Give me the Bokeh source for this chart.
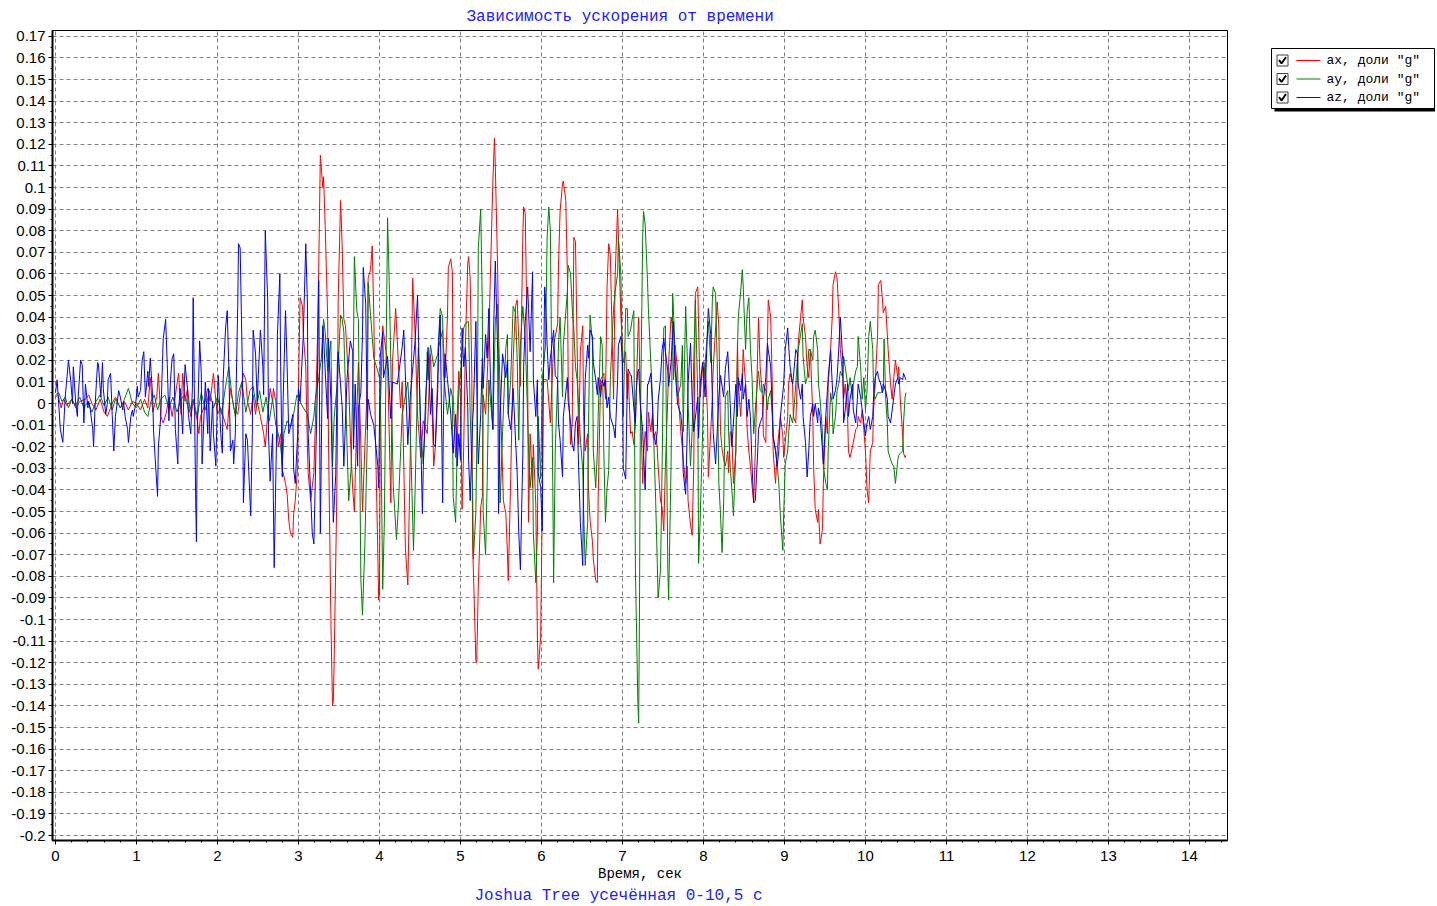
from bokeh.plotting import figure
from bokeh.layouts import row
from bokeh.models import (Range1d, SingleIntervalTicker, CustomJSTickFormatter, Title)
from bokeh.core.properties import value
from bokeh.embed import file_html
from bokeh.resources import INLINE

# ---------------- data (time, s ; acceleration, fractions of g) ----------------
t_ax = [
    0.00, 0.03, 0.07, 0.10, 0.14, 0.20, 0.25, 0.30, 0.37, 0.41,
    0.45, 0.50, 0.55, 0.60, 0.64, 0.70, 0.74, 0.80, 0.85, 0.90,
    0.95, 1.00, 1.05, 1.10, 1.14, 1.17, 1.20, 1.25, 1.27, 1.30,
    1.33, 1.37, 1.40, 1.44, 1.48, 1.52, 1.55, 1.57, 1.60, 1.63,
    1.67, 1.70, 1.75, 1.77, 1.79, 1.83, 1.88, 1.91, 1.95, 1.98,
    2.00, 2.04, 2.07, 2.12, 2.16, 2.19, 2.20, 2.25, 2.28, 2.32,
    2.35, 2.37, 2.41, 2.44, 2.47, 2.49, 2.53, 2.57, 2.59, 2.62,
    2.65, 2.68, 2.69, 2.72, 2.74, 2.75, 2.78, 2.80, 2.81, 2.84,
    2.86, 2.88, 2.90, 2.93, 2.94, 2.96, 2.99, 3.00, 3.02, 3.05,
    3.06, 3.09, 3.11, 3.12, 3.15, 3.19, 3.21, 3.23, 3.25, 3.27,
    3.30, 3.31, 3.33, 3.36, 3.37, 3.40, 3.42, 3.43, 3.44, 3.47,
    3.48, 3.49, 3.52, 3.54, 3.56, 3.58, 3.62, 3.64, 3.67, 3.69,
    3.73, 3.74, 3.77, 3.79, 3.83, 3.85, 3.86, 3.89, 3.91, 3.93,
    3.95, 3.98, 3.99, 4.00, 4.01, 4.04, 4.05, 4.10, 4.14, 4.16,
    4.20, 4.22, 4.26, 4.28, 4.32, 4.35, 4.36, 4.38, 4.41, 4.44,
    4.47, 4.51, 4.54, 4.59, 4.63, 4.67, 4.69, 4.73, 4.78, 4.81,
    4.84, 4.85, 4.88, 4.90, 4.91, 4.94, 4.98, 5.00, 5.02, 5.04,
    5.06, 5.09, 5.10, 5.12, 5.14, 5.15, 5.16, 5.19, 5.20, 5.22,
    5.25, 5.27, 5.28, 5.31, 5.35, 5.37, 5.40, 5.42, 5.43, 5.46,
    5.47, 5.49, 5.52, 5.53, 5.56, 5.58, 5.59, 5.62, 5.65, 5.68,
    5.70, 5.72, 5.74, 5.77, 5.78, 5.80, 5.83, 5.84, 5.86, 5.89,
    5.90, 5.93, 5.95, 5.96, 5.99, 6.01, 6.02, 6.07, 6.11, 6.15,
    6.20, 6.21, 6.23, 6.26, 6.27, 6.30, 6.32, 6.33, 6.36, 6.38,
    6.40, 6.42, 6.44, 6.46, 6.48, 6.51, 6.52, 6.54, 6.57, 6.58,
    6.60, 6.63, 6.64, 6.67, 6.69, 6.70, 6.73, 6.77, 6.79, 6.81,
    6.83, 6.85, 6.88, 6.89, 6.91, 6.94, 6.95, 6.98, 7.00, 7.01,
    7.04, 7.06, 7.07, 7.10, 7.12, 7.14, 7.16, 7.19, 7.20, 7.22,
    7.25, 7.26, 7.28, 7.31, 7.32, 7.35, 7.37, 7.38, 7.41, 7.43,
    7.44, 7.47, 7.49, 7.51, 7.53, 7.56, 7.57, 7.60, 7.62, 7.63,
    7.65, 7.68, 7.69, 7.72, 7.74, 7.75, 7.78, 7.80, 7.81, 7.84,
    7.86, 7.88, 7.90, 7.93, 7.94, 7.96, 7.99, 8.00, 8.02, 8.05,
    8.06, 8.09, 8.11, 8.12, 8.15, 8.17, 8.19, 8.21, 8.23, 8.25,
    8.27, 8.30, 8.31, 8.33, 8.35, 8.37, 8.40, 8.42, 8.43, 8.46,
    8.48, 8.49, 8.52, 8.54, 8.56, 8.58, 8.60, 8.62, 8.64, 8.67,
    8.68, 8.70, 8.73, 8.74, 8.77, 8.79, 8.80, 8.83, 8.85, 8.86,
    8.89, 8.91, 8.93, 8.95, 8.98, 8.99, 9.01, 9.04, 9.05, 9.07,
    9.10, 9.11, 9.14, 9.16, 9.17, 9.20, 9.22, 9.23, 9.26, 9.28,
    9.30, 9.32, 9.35, 9.36, 9.38, 9.41, 9.42, 9.44, 9.47, 9.48,
    9.51, 9.53, 9.54, 9.57, 9.59, 9.60, 9.63, 9.65, 9.67, 9.69,
    9.72, 9.73, 9.75, 9.78, 9.79, 9.81, 9.84, 9.85, 9.88, 9.90,
    9.91, 9.94, 9.96, 9.98, 10.00, 10.02, 10.04, 10.06, 10.09, 10.10,
    10.12, 10.15, 10.16, 10.19, 10.21, 10.22, 10.25, 10.27, 10.28, 10.31,
    10.33, 10.35, 10.37, 10.40, 10.41, 10.43, 10.46, 10.47, 10.49, 10.50,
]
ax = [
    0.003, 0.004, -0.002, 0.002, -0.001, 0.002, -0.002, 0.001, 0.002, 0.004,
    0.000, -0.003, 0.002, -0.004, -0.006, 0.000, 0.003, -0.002, 0.001, -0.003,
    0.001, 0.000, -0.003, 0.002, -0.002, 0.012, -0.004, 0.003, 0.014, -0.006,
    -0.009, -0.004, 0.003, -0.006, 0.004, 0.014, -0.005, 0.014, 0.001, 0.007,
    -0.006, 0.001, -0.008, -0.014, -0.006, -0.002, 0.007, 0.001, 0.014, 0.001,
    -0.005, -0.002, -0.006, -0.012, 0.007, 0.001, -0.002, -0.005, 0.004, 0.014,
    0.011, 0.001, -0.005, 0.004, -0.005, 0.001, -0.006, -0.014, -0.020, -0.005,
    0.007, 0.001, 0.007, 0.001, -0.014, -0.020, -0.014, -0.031, -0.032, -0.037,
    -0.042, -0.054, -0.060, -0.062, -0.051, -0.045, -0.029, 0.009, 0.049, 0.045,
    0.032, 0.017, -0.020, -0.032, -0.045, -0.032, -0.007, 0.023, 0.063, 0.115,
    0.100, 0.105, 0.082, 0.040, -0.015, -0.100, -0.140, -0.138, -0.120, -0.050,
    -0.020, 0.048, 0.094, 0.072, 0.039, 0.036, 0.010, -0.015, -0.040, -0.050,
    0.008, 0.019, -0.019, -0.050, -0.010, 0.010, 0.058, 0.062, 0.073, 0.041,
    -0.015, -0.070, -0.091, -0.088, -0.003, 0.036, 0.033, 0.019, -0.046, 0.019,
    0.044, 0.029, -0.002, 0.010, -0.067, -0.084, -0.064, -0.024, 0.058, 0.032,
    -0.005, -0.025, -0.008, -0.014, 0.023, -0.029, -0.020, 0.026, 0.034, 0.012,
    0.041, 0.063, 0.067, 0.061, 0.004, -0.025, 0.015, 0.003, -0.049, -0.020,
    0.026, 0.065, 0.068, 0.058, 0.013, -0.066, -0.078, -0.119, -0.120, -0.085,
    -0.048, -0.043, 0.004, -0.005, 0.030, 0.060, 0.103, 0.123, 0.110, 0.060,
    0.034, 0.004, -0.032, -0.045, -0.051, -0.069, -0.082, -0.035, 0.020, 0.045,
    0.048, 0.029, 0.008, 0.078, 0.091, 0.088, 0.011, -0.055, -0.014, -0.039,
    -0.019, -0.047, -0.108, -0.123, -0.108, -0.047, 0.011, 0.011, -0.009, 0.027,
    0.037, 0.064, 0.089, 0.102, 0.103, 0.094, 0.060, 0.011, -0.019, -0.009,
    0.077, 0.075, 0.027, -0.019, 0.024, 0.036, -0.006, -0.022, -0.014, -0.039,
    -0.054, -0.064, -0.072, -0.082, -0.083, -0.044, 0.011, 0.014, 0.002, 0.054,
    0.074, 0.069, 0.019, 0.002, 0.060, 0.090, 0.077, 0.041, 0.027, 0.019,
    0.024, 0.002, 0.014, -0.014, -0.013, -0.019, -0.010, 0.031, 0.040, 0.003,
    -0.037, -0.024, -0.013, -0.022, -0.004, -0.013, -0.005, -0.016, -0.013, -0.021,
    -0.029, -0.045, -0.048, -0.059, -0.029, 0.003, 0.019, 0.040, 0.035, 0.011,
    0.027, 0.016, 0.003, -0.013, -0.021, -0.026, -0.037, -0.029, -0.045, -0.056,
    -0.061, -0.029, 0.051, 0.054, 0.035, 0.003, 0.019, 0.009, 0.019, -0.005,
    -0.034, -0.013, 0.003, 0.016, 0.035, 0.047, 0.035, -0.013, -0.021, -0.026,
    -0.029, -0.022, -0.032, -0.013, -0.014, -0.037, -0.022, 0.028, 0.009, -0.006,
    0.009, 0.025, 0.009, -0.012, -0.022, -0.029, -0.038, -0.046, -0.022, 0.025,
    0.040, 0.017, 0.002, -0.015, -0.018, 0.028, 0.048, 0.040, 0.009, -0.022,
    -0.037, -0.022, -0.014, -0.006, -0.015, -0.025, -0.018, -0.006, 0.009, 0.014,
    0.009, -0.006, -0.009, 0.012, 0.028, 0.040, 0.048, 0.040, 0.031, 0.017,
    0.012, 0.025, -0.006, -0.029, -0.049, -0.055, -0.049, -0.065, -0.058, -0.037,
    -0.006, -0.014, 0.009, 0.025, 0.040, 0.055, 0.061, 0.058, 0.043, 0.025,
    0.012, 0.002, 0.009, -0.006, -0.022, -0.025, -0.020, -0.018, -0.012, -0.011,
    -0.006, -0.009, -0.003, -0.012, -0.022, -0.040, -0.046, -0.022, -0.018, -0.003,
    0.009, 0.032, 0.055, 0.057, 0.048, 0.042, 0.045, 0.032, 0.025, 0.009,
    0.002, 0.012, 0.020, 0.012, 0.017, 0.002, -0.015, -0.023, -0.025, -0.024,
]

t_ay = [
    0.00, 0.04, 0.08, 0.12, 0.16, 0.20, 0.25, 0.30, 0.35, 0.40,
    0.45, 0.50, 0.55, 0.60, 0.65, 0.70, 0.74, 0.80, 0.84, 0.90,
    0.95, 1.00, 1.05, 1.10, 1.14, 1.18, 1.22, 1.26, 1.30, 1.35,
    1.40, 1.45, 1.50, 1.55, 1.60, 1.65, 1.70, 1.75, 1.80, 1.85,
    1.90, 1.95, 2.00, 2.05, 2.10, 2.14, 2.18, 2.22, 2.26, 2.30,
    2.35, 2.40, 2.44, 2.48, 2.52, 2.56, 2.60, 2.64, 2.68, 2.72,
    2.75, 2.78, 2.80, 2.82, 2.86, 2.90, 2.94, 2.98, 3.02, 3.06,
    3.11, 3.15, 3.19, 3.21, 3.25, 3.28, 3.31, 3.33, 3.36, 3.40,
    3.42, 3.44, 3.48, 3.52, 3.54, 3.56, 3.60, 3.62, 3.65, 3.68,
    3.69, 3.72, 3.74, 3.77, 3.79, 3.82, 3.85, 3.86, 3.89, 3.93,
    3.98, 4.01, 4.04, 4.06, 4.10, 4.12, 4.17, 4.21, 4.23, 4.28,
    4.35, 4.38, 4.42, 4.44, 4.47, 4.48, 4.51, 4.54, 4.57, 4.59,
    4.60, 4.63, 4.67, 4.72, 4.75, 4.78, 4.79, 4.84, 4.88, 4.90,
    4.91, 4.94, 4.96, 4.98, 5.00, 5.04, 5.06, 5.10, 5.12, 5.15,
    5.16, 5.19, 5.21, 5.22, 5.25, 5.27, 5.28, 5.31, 5.33, 5.35,
    5.40, 5.43, 5.46, 5.47, 5.49, 5.52, 5.56, 5.58, 5.59, 5.62,
    5.65, 5.68, 5.70, 5.72, 5.74, 5.77, 5.80, 5.84, 5.86, 5.89,
    5.90, 5.93, 5.95, 5.96, 5.99, 6.01, 6.05, 6.07, 6.09, 6.11,
    6.14, 6.15, 6.17, 6.20, 6.21, 6.23, 6.26, 6.27, 6.32, 6.33,
    6.36, 6.38, 6.40, 6.42, 6.44, 6.48, 6.51, 6.52, 6.54, 6.57,
    6.58, 6.60, 6.63, 6.64, 6.67, 6.69, 6.70, 6.73, 6.75, 6.77,
    6.79, 6.81, 6.83, 6.85, 6.88, 6.89, 6.91, 6.94, 6.95, 6.98,
    7.00, 7.01, 7.04, 7.06, 7.07, 7.10, 7.12, 7.14, 7.16, 7.19,
    7.20, 7.21, 7.22, 7.25, 7.26, 7.28, 7.31, 7.32, 7.35, 7.37,
    7.38, 7.41, 7.43, 7.44, 7.47, 7.49, 7.51, 7.53, 7.56, 7.57,
    7.60, 7.62, 7.63, 7.65, 7.68, 7.72, 7.74, 7.75, 7.78, 7.80,
    7.81, 7.84, 7.86, 7.88, 7.90, 7.93, 7.94, 7.96, 7.99, 8.00,
    8.02, 8.05, 8.06, 8.09, 8.11, 8.12, 8.15, 8.17, 8.19, 8.21,
    8.23, 8.25, 8.27, 8.30, 8.31, 8.33, 8.36, 8.37, 8.40, 8.42,
    8.43, 8.46, 8.48, 8.49, 8.52, 8.54, 8.56, 8.58, 8.60, 8.62,
    8.64, 8.67, 8.68, 8.70, 8.73, 8.74, 8.77, 8.79, 8.80, 8.83,
    8.85, 8.86, 8.89, 8.91, 8.93, 8.95, 8.98, 8.99, 9.01, 9.04,
    9.05, 9.07, 9.10, 9.11, 9.14, 9.16, 9.17, 9.20, 9.22, 9.23,
    9.26, 9.28, 9.30, 9.32, 9.35, 9.36, 9.38, 9.41, 9.42, 9.44,
    9.47, 9.48, 9.51, 9.53, 9.54, 9.57, 9.59, 9.60, 9.63, 9.65,
    9.67, 9.69, 9.72, 9.73, 9.75, 9.78, 9.79, 9.81, 9.84, 9.85,
    9.88, 9.90, 9.91, 9.94, 9.96, 9.98, 10.00, 10.02, 10.04, 10.06,
    10.09, 10.10, 10.12, 10.15, 10.19, 10.22, 10.23, 10.25, 10.27, 10.28,
    10.31, 10.33, 10.35, 10.37, 10.40, 10.41, 10.43, 10.46, 10.47, 10.49,
    10.50,
]
ay = [
    0.004, 0.005, 0.001, 0.003, -0.002, 0.002, -0.001, 0.003, -0.002, 0.001,
    -0.004, 0.001, 0.004, -0.001, 0.003, -0.003, 0.002, -0.002, 0.001, 0.007,
    0.000, -0.002, 0.002, -0.004, -0.006, 0.001, 0.004, -0.003, 0.002, 0.004,
    -0.002, 0.003, -0.004, 0.002, 0.004, -0.004, 0.002, -0.006, 0.005, -0.003,
    0.006, -0.002, 0.003, -0.005, 0.008, 0.017, 0.003, -0.006, 0.005, 0.010,
    -0.004, 0.006, 0.008, -0.002, 0.006, -0.004, 0.003, -0.008, 0.002, -0.010,
    -0.014, -0.020, -0.028, -0.014, -0.008, -0.011, -0.005, 0.004, 0.001, -0.002,
    -0.005, -0.014, -0.006, 0.003, 0.012, 0.020, 0.039, 0.033, 0.015, 0.029,
    -0.029, -0.007, 0.010, 0.041, 0.039, 0.033, -0.020, -0.045, -0.030, 0.030,
    0.068, 0.043, 0.039, -0.081, -0.098, -0.065, -0.015, 0.056, 0.041, 0.021,
    0.015, 0.010, -0.086, -0.055, 0.086, 0.057, -0.038, -0.063, -0.050, -0.005,
    0.010, -0.012, -0.068, -0.040, 0.011, 0.026, -0.012, -0.028, -0.005, 0.024,
    0.011, 0.027, 0.017, 0.023, 0.044, 0.040, 0.014, -0.005, 0.007, 0.003,
    -0.043, -0.055, -0.020, 0.007, 0.013, 0.035, 0.037, 0.038, -0.005, -0.040,
    -0.072, -0.050, 0.003, 0.072, 0.090, 0.045, -0.050, -0.070, -0.036, 0.011,
    -0.012, 0.038, 0.046, 0.018, -0.046, -0.013, 0.026, 0.032, -0.005, 0.011,
    0.045, 0.042, 0.021, -0.017, 0.027, 0.045, 0.030, -0.020, -0.039, -0.025,
    -0.060, -0.083, -0.060, -0.006, -0.035, 0.011, 0.027, 0.077, 0.091, 0.080,
    -0.039, -0.083, -0.022, 0.011, 0.027, 0.040, 0.003, 0.027, 0.052, 0.064,
    0.060, 0.044, 0.034, 0.017, 0.011, -0.016, -0.031, -0.049, -0.075, -0.055,
    -0.014, 0.041, 0.028, -0.022, -0.039, -0.022, -0.006, 0.031, 0.027, -0.022,
    -0.055, -0.039, -0.031, 0.011, 0.036, 0.044, 0.052, 0.060, 0.077, 0.060,
    0.011, -0.006, 0.044, 0.044, 0.031, 0.034, 0.039, 0.043, -0.077, -0.138,
    -0.148, -0.096, -0.013, 0.078, 0.089, 0.083, 0.056, 0.044, 0.019, 0.003,
    -0.010, -0.045, -0.074, -0.090, -0.077, -0.029, 0.035, 0.036, -0.077, -0.091,
    -0.029, 0.051, 0.043, 0.022, 0.003, 0.009, 0.027, -0.013, 0.045, 0.022,
    0.000, -0.029, -0.013, 0.019, 0.048, 0.003, -0.074, -0.053, -0.013, 0.009,
    0.019, 0.032, 0.038, 0.019, 0.048, 0.054, 0.051, 0.019, -0.037, -0.051,
    -0.069, -0.045, 0.003, 0.006, -0.013, -0.029, -0.045, -0.052, -0.022, 0.025,
    0.040, 0.052, 0.062, 0.055, 0.025, 0.043, 0.049, 0.025, 0.012, -0.014,
    -0.003, 0.012, 0.015, 0.006, 0.005, 0.009, 0.006, -0.003, 0.002, 0.006,
    -0.006, -0.015, -0.022, -0.028, -0.037, -0.052, -0.068, -0.052, -0.028, -0.022,
    -0.015, -0.005, -0.009, -0.006, 0.009, 0.020, 0.025, 0.032, 0.037, 0.022,
    0.009, 0.012, 0.025, 0.025, 0.020, 0.031, 0.034, 0.025, 0.009, 0.002,
    -0.014, -0.029, -0.037, -0.040, -0.022, 0.005, 0.000, -0.014, -0.006, 0.006,
    0.009, 0.015, 0.012, 0.022, 0.017, 0.009, 0.006, 0.012, 0.002, 0.009,
    0.015, 0.017, 0.031, 0.017, 0.002, 0.012, -0.003, 0.006, 0.031, 0.038,
    0.025, 0.006, 0.002, 0.005, 0.005, 0.006, 0.030, 0.002, -0.009, -0.022,
    -0.026, -0.028, -0.029, -0.037, -0.026, -0.024, -0.023, -0.022, -0.009, 0.003,
    0.005,
]

t_az = [
    0.00, 0.02, 0.06, 0.09, 0.12, 0.16, 0.19, 0.21, 0.22, 0.25,
    0.27, 0.28, 0.31, 0.33, 0.35, 0.37, 0.40, 0.41, 0.43, 0.46,
    0.47, 0.49, 0.52, 0.53, 0.56, 0.58, 0.59, 0.62, 0.64, 0.65,
    0.68, 0.70, 0.72, 0.74, 0.77, 0.78, 0.80, 0.83, 0.84, 0.86,
    0.89, 0.90, 0.93, 0.95, 0.96, 0.99, 1.01, 1.02, 1.05, 1.07,
    1.09, 1.11, 1.14, 1.15, 1.17, 1.20, 1.21, 1.23, 1.26, 1.27,
    1.30, 1.32, 1.33, 1.36, 1.38, 1.40, 1.42, 1.44, 1.46, 1.48,
    1.51, 1.52, 1.54, 1.57, 1.58, 1.60, 1.63, 1.64, 1.67, 1.69,
    1.70, 1.73, 1.74, 1.75, 1.78, 1.80, 1.81, 1.85, 1.88, 1.89,
    1.91, 1.94, 1.95, 1.98, 2.00, 2.01, 2.04, 2.06, 2.07, 2.10,
    2.12, 2.14, 2.16, 2.19, 2.20, 2.22, 2.25, 2.26, 2.28, 2.31,
    2.32, 2.35, 2.37, 2.38, 2.41, 2.43, 2.44, 2.47, 2.49, 2.51,
    2.53, 2.56, 2.57, 2.59, 2.62, 2.63, 2.65, 2.68, 2.69, 2.70,
    2.73, 2.74, 2.77, 2.78, 2.80, 2.81, 2.84, 2.86, 2.88, 2.90,
    2.93, 2.94, 2.96, 2.99, 3.00, 3.02, 3.06, 3.09, 3.11, 3.12,
    3.17, 3.19, 3.23, 3.25, 3.27, 3.30, 3.31, 3.33, 3.36, 3.37,
    3.40, 3.43, 3.46, 3.48, 3.49, 3.54, 3.56, 3.60, 3.64, 3.67,
    3.68, 3.70, 3.73, 3.74, 3.77, 3.79, 3.80, 3.83, 3.85, 3.86,
    3.89, 3.93, 3.98, 3.99, 4.01, 4.04, 4.05, 4.10, 4.14, 4.16,
    4.22, 4.28, 4.30, 4.35, 4.38, 4.44, 4.47, 4.51, 4.53, 4.54,
    4.57, 4.59, 4.60, 4.63, 4.65, 4.67, 4.69, 4.72, 4.73, 4.75,
    4.78, 4.79, 4.81, 4.84, 4.88, 4.91, 4.94, 4.96, 4.98, 5.00,
    5.02, 5.04, 5.06, 5.09, 5.10, 5.12, 5.15, 5.16, 5.19, 5.21,
    5.22, 5.25, 5.27, 5.28, 5.31, 5.33, 5.35, 5.37, 5.40, 5.41,
    5.43, 5.46, 5.47, 5.49, 5.52, 5.56, 5.58, 5.59, 5.62, 5.64,
    5.65, 5.68, 5.70, 5.72, 5.74, 5.77, 5.78, 5.80, 5.83, 5.84,
    5.86, 5.89, 5.90, 5.93, 5.95, 5.96, 5.99, 6.01, 6.02, 6.04,
    6.05, 6.07, 6.09, 6.11, 6.15, 6.17, 6.20, 6.21, 6.23, 6.26,
    6.27, 6.32, 6.33, 6.36, 6.38, 6.40, 6.42, 6.44, 6.48, 6.51,
    6.52, 6.54, 6.57, 6.58, 6.60, 6.63, 6.64, 6.67, 6.69, 6.70,
    6.73, 6.75, 6.77, 6.79, 6.81, 6.83, 6.85, 6.89, 6.91, 6.94,
    6.95, 6.98, 7.00, 7.01, 7.04, 7.06, 7.07, 7.10, 7.11, 7.14,
    7.16, 7.17, 7.19, 7.20, 7.22, 7.25, 7.28, 7.31, 7.32, 7.35,
    7.37, 7.38, 7.41, 7.43, 7.44, 7.47, 7.49, 7.51, 7.56, 7.57,
    7.60, 7.63, 7.65, 7.68, 7.72, 7.74, 7.75, 7.78, 7.80, 7.81,
    7.84, 7.86, 7.88, 7.93, 7.94, 7.96, 7.99, 8.00, 8.02, 8.05,
    8.06, 8.09, 8.11, 8.12, 8.15, 8.17, 8.19, 8.21, 8.25, 8.27,
    8.30, 8.31, 8.33, 8.35, 8.37, 8.40, 8.42, 8.43, 8.46, 8.48,
    8.49, 8.52, 8.54, 8.56, 8.58, 8.60, 8.62, 8.64, 8.67, 8.68,
    8.70, 8.73, 8.74, 8.77, 8.79, 8.80, 8.83, 8.85, 8.86, 8.89,
    8.91, 8.93, 8.95, 8.98, 8.99, 9.01, 9.04, 9.05, 9.07, 9.10,
    9.11, 9.14, 9.16, 9.17, 9.20, 9.22, 9.23, 9.26, 9.28, 9.30,
    9.32, 9.35, 9.36, 9.38, 9.41, 9.42, 9.44, 9.47, 9.48, 9.51,
    9.53, 9.54, 9.57, 9.59, 9.60, 9.63, 9.65, 9.67, 9.69, 9.72,
    9.73, 9.75, 9.78, 9.79, 9.81, 9.84, 9.85, 9.88, 9.90, 9.91,
    9.94, 9.96, 9.98, 10.00, 10.02, 10.04, 10.06, 10.09, 10.10, 10.12,
    10.15, 10.16, 10.19, 10.21, 10.22, 10.25, 10.27, 10.28, 10.31, 10.33,
    10.35, 10.37, 10.40, 10.41, 10.43, 10.46, 10.47, 10.49, 10.50,
]
az = [
    0.005, 0.011, -0.012, -0.018, 0.003, 0.020, 0.010, 0.000, 0.017, 0.000,
    -0.006, 0.003, 0.020, 0.018, -0.009, 0.009, -0.002, 0.001, -0.003, -0.012,
    -0.020, 0.000, 0.019, 0.018, 0.003, 0.019, 0.007, -0.005, 0.000, 0.011,
    0.014, -0.005, -0.022, -0.006, 0.003, 0.006, 0.003, -0.003, 0.001, -0.006,
    -0.012, -0.018, -0.006, -0.003, -0.006, 0.000, 0.008, 0.003, 0.006, 0.020,
    0.024, 0.003, 0.015, 0.008, 0.021, 0.003, -0.012, -0.025, -0.043, -0.020,
    -0.006, 0.018, 0.030, 0.039, 0.018, -0.008, 0.011, 0.021, 0.023, -0.012,
    -0.028, -0.003, 0.007, -0.014, -0.002, 0.018, 0.007, -0.005, -0.014, 0.007,
    0.049, -0.042, -0.064, -0.014, 0.029, 0.014, -0.028, 0.010, -0.014, 0.007,
    -0.022, 0.001, -0.014, -0.029, 0.004, 0.013, -0.014, -0.023, 0.011, 0.035,
    0.043, 0.017, -0.022, -0.017, -0.028, -0.014, 0.046, 0.074, 0.072, 0.010,
    -0.046, -0.014, -0.017, -0.026, -0.052, -0.014, 0.034, 0.023, 0.001, 0.018,
    0.034, 0.017, 0.004, 0.080, 0.048, -0.014, -0.036, -0.014, -0.045, -0.076,
    -0.014, 0.032, 0.060, 0.017, -0.034, 0.001, 0.043, 0.017, -0.014, -0.011,
    -0.005, -0.030, -0.037, -0.014, 0.007, 0.001, 0.032, 0.074, 0.047, -0.014,
    -0.060, -0.065, 0.002, 0.057, -0.060, 0.036, 0.031, 0.015, -0.007, 0.030,
    0.002, -0.055, -0.033, 0.019, 0.024, -0.002, -0.029, 0.012, 0.029, 0.024,
    -0.021, 0.009, -0.029, -0.002, 0.005, 0.032, 0.063, 0.046, -0.012, 0.002,
    -0.005, -0.010, -0.029, -0.039, 0.022, 0.033, 0.012, 0.022, -0.007, 0.010,
    0.009, 0.026, 0.034, -0.019, 0.003, 0.029, 0.050, -0.017, -0.051, -0.031,
    0.003, 0.015, 0.026, -0.005, 0.007, -0.019, -0.020, 0.007, 0.026, 0.041,
    -0.046, -0.005, 0.023, 0.011, -0.005, -0.023, -0.005, -0.029, -0.014, -0.026,
    0.035, 0.017, 0.026, -0.002, -0.026, -0.045, -0.008, -0.002, 0.038, -0.014,
    -0.028, -0.005, 0.021, 0.007, 0.032, 0.021, 0.044, 0.011, -0.012, 0.035,
    0.066, 0.023, -0.051, -0.005, 0.023, 0.012, 0.020, -0.005, -0.012, -0.002,
    0.007, -0.017, -0.032, -0.060, -0.077, -0.023, 0.017, 0.038, 0.054, 0.044,
    0.024, 0.061, 0.011, -0.006, 0.011, -0.032, -0.039, -0.059, 0.000, 0.054,
    0.048, 0.027, 0.011, 0.021, 0.034, 0.013, 0.011, -0.009, -0.017, -0.034,
    -0.006, 0.012, 0.001, -0.009, -0.019, -0.022, -0.009, -0.006, -0.055, -0.075,
    -0.029, 0.011, 0.027, 0.021, 0.034, 0.031, 0.019, 0.011, 0.004, 0.012,
    0.003, 0.011, 0.008, 0.011, -0.002, 0.003, -0.006, -0.011, -0.016, 0.011,
    0.027, 0.031, 0.019, -0.030, -0.035, 0.011, 0.016, 0.013, 0.013, -0.002,
    -0.009, 0.006, 0.015, 0.016, 0.000, -0.013, -0.040, 0.009, 0.009, 0.014,
    0.000, -0.013, -0.019, -0.013, 0.001, 0.012, 0.025, 0.030, 0.015, 0.008,
    0.019, 0.038, 0.016, 0.000, -0.005, -0.013, -0.032, -0.042, -0.013, 0.009,
    0.028, 0.003, -0.013, 0.003, -0.016, 0.009, 0.019, 0.016, 0.003, 0.035,
    0.044, 0.032, 0.003, -0.013, -0.028, -0.013, 0.003, 0.013, 0.003, 0.016,
    0.024, 0.016, 0.000, -0.020, -0.009, 0.009, -0.006, 0.012, 0.006, 0.014,
    0.002, 0.009, -0.006, 0.002, -0.006, -0.029, -0.046, -0.045, -0.022, -0.012,
    -0.009, -0.006, 0.002, 0.012, 0.028, 0.025, 0.017, -0.003, -0.015, -0.022,
    -0.029, -0.022, -0.006, 0.005, 0.009, 0.025, 0.035, 0.028, 0.017, 0.009,
    0.012, 0.025, 0.023, 0.009, 0.002, 0.009, -0.006, -0.018, -0.034, -0.022,
    -0.006, 0.000, -0.006, 0.000, -0.009, -0.002, -0.006, -0.022, -0.028, -0.006,
    0.006, 0.012, 0.025, 0.009, 0.002, 0.006, 0.012, 0.025, 0.040, 0.020,
    -0.009, -0.003, 0.009, -0.006, 0.002, 0.009, -0.003, -0.009, 0.002, 0.009,
    0.003, -0.003, -0.009, -0.015, -0.009, -0.006, -0.012, -0.006, 0.003, 0.012,
    0.015, 0.012, 0.009, 0.005, 0.009, 0.006, 0.002, -0.006, -0.009, -0.003,
    0.003, 0.009, 0.012, 0.009, 0.012, 0.011, 0.014, 0.012, 0.011,
]

series_labels = ['ax, доли "g"', 'ay, доли "g"', 'az, доли "g"']
series_colors = ["#ff0000", "#008000", "#0000ff"]

title_text = "Зависимость ускорения от времени"
x_label = "Время, сек"
subtitle_text = "Joshua Tree усечённая 0-10,5 с"

# ---------------- main figure ----------------
MONO = "Liberation Mono"
SANS = "Liberation Sans"
FIG_H = 904
BORDER_TOP = 30
BORDER_BOTTOM = 64

p = figure(width=1237, height=FIG_H, output_backend="svg", toolbar_location=None,
           x_range=Range1d(-0.037, 14.47), y_range=Range1d(-0.2023, 0.1727),
           min_border_left=52, min_border_right=10, min_border_top=BORDER_TOP,
           min_border_bottom=BORDER_BOTTOM, background_fill_color="white",
           border_fill_color="white")

p.title.text = title_text
p.title.align = "left"
p.title.offset = 414
p.title.text_font = MONO
p.title.text_font_size = "16px"
p.title.text_font_style = "normal"
p.title.text_color = "#2020ff"
p.title.standoff = 10

p.outline_line_color = "black"
p.outline_line_width = 1

p.xaxis.ticker = SingleIntervalTicker(interval=1, num_minor_ticks=5)
p.yaxis.ticker = SingleIntervalTicker(interval=0.01, num_minor_ticks=2)
p.yaxis.formatter = CustomJSTickFormatter(code="""
    const v = Math.round(tick * 100) / 100;
    return (v === 0 ? 0 : v).toString();
""")
p.xaxis.formatter = CustomJSTickFormatter(code="return Math.round(tick).toString();")
for axis in (p.xaxis, p.yaxis):
    axis.axis_line_color = "black"
    axis.axis_line_width = 2
    axis.major_tick_line_color = "black"
    axis.minor_tick_line_color = "black"
    axis.major_tick_out = 4
    axis.major_tick_in = 0
    axis.minor_tick_out = 2
    axis.minor_tick_in = 0
    axis.major_label_text_font = SANS
    axis.major_label_text_font_size = "15px"
    axis.major_label_text_color = "black"
p.yaxis.major_label_standoff = 3
p.xaxis.major_label_standoff = 6

p.xaxis.axis_label = x_label
p.xaxis.axis_label_text_font = MONO
p.xaxis.axis_label_text_font_size = "14px"
p.xaxis.axis_label_text_font_style = "normal"
p.xaxis.axis_label_text_color = "black"
p.xaxis.axis_label_standoff = 2

sub = Title(text=subtitle_text, align="left", offset=422, text_font=MONO,
            text_font_size="16px", text_font_style="normal",
            text_color="#2020ff", standoff=0)
p.add_layout(sub, "below")

for g in (p.xgrid, p.ygrid):
    g.grid_line_color = "#808080"
    g.grid_line_dash = "4 3"
    g.grid_line_width = 1

for t, v, c in ((t_ax, ax, series_colors[0]),
                (t_ay, ay, series_colors[1]),
                (t_az, az, series_colors[2])):
    p.line(t, v, line_color=c, line_width=1)

# ---------------- legend panel ----------------
# The row layout aligns this panel's frame with the main frame, so its y range
# is set to the page rows covered by that frame (y grows downwards).
LEG_W = 198
lg = figure(width=LEG_W, height=FIG_H, output_backend="svg", toolbar_location=None,
            x_range=Range1d(0, LEG_W),
            y_range=Range1d(FIG_H - BORDER_BOTTOM, BORDER_TOP),
            min_border_left=0, min_border_right=0,
            min_border_top=BORDER_TOP, min_border_bottom=BORDER_BOTTOM,
            background_fill_color="white", border_fill_color="white")
lg.axis.visible = False
lg.grid.visible = False
lg.outline_line_color = None

box_l, box_r, box_t, box_b = 34, 197, 48, 108
lg.quad(left=[box_l + 3], right=[box_r + 4], top=[box_t + 3], bottom=[box_b + 3],
        fill_color="black", line_color=None)
lg.quad(left=[box_l], right=[box_r], top=[box_t], bottom=[box_b],
        fill_color="white", line_color="black", line_width=1)

row_y = [box_t + 12 + 18.5 * i for i in range(len(series_labels))]
cb_x = box_l + 11
lg.rect(x=[cb_x] * len(row_y), y=row_y, width=11, height=11,
        fill_color="white", line_color="#404040", line_width=1)
lg.multi_line(xs=[[cb_x - 3.5, cb_x - 1, cb_x + 3.5] for _ in row_y],
              ys=[[y - 0.5, y + 3, y - 3.5] for y in row_y],
              line_color="black", line_width=2)
lg.segment(x0=[box_l + 25] * len(row_y), x1=[box_l + 49] * len(row_y),
           y0=row_y, y1=row_y, line_color=series_colors, line_width=1)
lg.text(x=[box_l + 55] * len(row_y), y=row_y, text=series_labels,
        text_font=value(MONO), text_font_size="13px", text_color="black",
        text_baseline="middle", text_align="left")

layout = row(p, lg)
open("out.html", "w").write(file_html(layout, INLINE))
